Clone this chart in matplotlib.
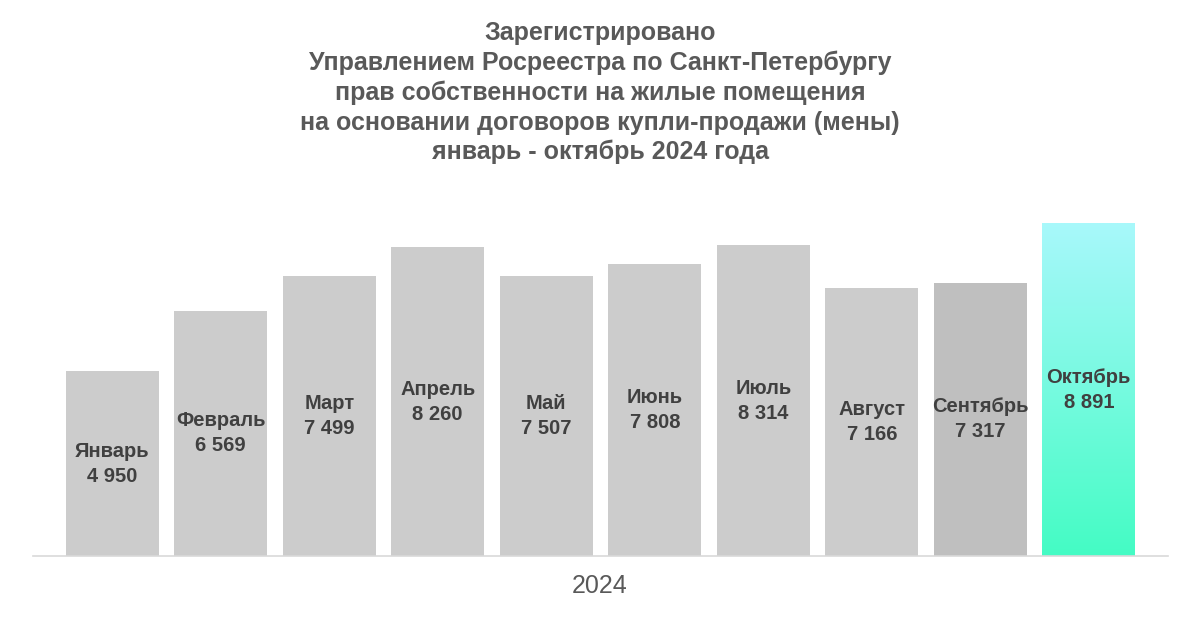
import matplotlib.pyplot as plt
import numpy as np

# data
months = ['Январь', 'Февраль', 'Март', 'Апрель', 'Май', 'Июнь', 'Июль',
          'Август', 'Сентябрь', 'Октябрь']
values = [4950, 6569, 7499, 8260, 7507, 7808, 8314, 7166, 7317, 8891]
year_label = '2024'
title_lines = ['Зарегистрировано',
               'Управлением Росреестра по Санкт-Петербургу',
               'прав собственности на жилые помещения',
               'на основании договоров купли-продажи (мены)',
               'январь - октябрь 2024 года']

fig = plt.figure(figsize=(12, 6.22), dpi=100)
ax = fig.add_axes([33 / 1200, 66 / 622, 1135 / 1200, 356 / 622])

x = np.arange(len(months))
colors = ['#cccccc'] * 8 + ['#bfbfbf', 'none']
bars = ax.bar(x, values, width=0.857, color=colors, zorder=2)

# gradient for the last bar
last = bars[-1]
grad = np.linspace(0, 1, 256).reshape(-1, 1)
top_c = np.array([0xa8, 0xf8, 0xfb]) / 255
bot_c = np.array([0x44, 0xfc, 0xc4]) / 255
img = top_c * (1 - grad[..., None]) + bot_c * grad[..., None]
x0 = last.get_x()
ax.imshow(img, extent=[x0, x0 + last.get_width(), 0, last.get_height()],
          aspect='auto', zorder=2, origin='upper')

for xi, m, v in zip(x, months, values):
    txt = m + '\n' + f'{v:,}'.replace(',', ' ')
    ax.text(xi, v / 2, txt, ha='center', va='center', fontsize=14.5,
            fontweight='bold', color='#404040', family='Liberation Sans',
            linespacing=1.4, zorder=3)

ax.set_xlim(-0.73, 9.73)
ax.set_ylim(0, 9530)
ax.set_xticks([])
ax.set_yticks([])
for s in ['top', 'right', 'left']:
    ax.spines[s].set_visible(False)
ax.spines['bottom'].set_color('#d9d9d9')
ax.spines['bottom'].set_linewidth(1.2)

fig.text(0.5, 1 - 586 / 622, year_label, ha='center', va='center',
         fontsize=18, color='#595959', family='Liberation Sans')

ys = [33, 63, 93, 123, 152]
for line, y in zip(title_lines, ys):
    fig.text(0.5, 1 - y / 622, line, ha='center', va='center', fontsize=18,
             fontweight='bold', color='#595959', family='Liberation Sans')

fig.savefig('out.png', dpi=100)
